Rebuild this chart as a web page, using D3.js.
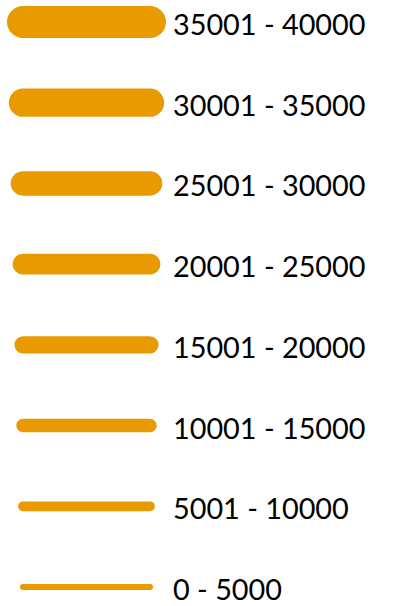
<!DOCTYPE html>
<html>
<head>
<meta charset="utf-8">
<script src="https://cdn.jsdelivr.net/npm/d3@7"></script>
<style>
  html, body { margin: 0; padding: 0; background: #fff; }
  svg { display: block; }
</style>
</head>
<body>
<div id="chartContainer"></div>
<script>
// legend classes, top to bottom
var lowerBounds = [35001, 30001, 25001, 20001, 15001, 10001, 5001, 0];
var upperBounds = [40000, 35000, 30000, 25000, 20000, 15000, 10000, 5000];
var labels = ["35001 - 40000", "30001 - 35000", "25001 - 30000", "20001 - 25000",
              "15001 - 20000", "10001 - 15000", "5001 - 10000", "0 - 5000"];

var width = 402, height = 606;

var svg = d3.select("#chartContainer")
  .append("svg")
  .attr("width", width)
  .attr("height", height);

var y = d3.scalePoint()
  .domain(labels)
  .range([22, 587]);

// stroke width grows with the class upper bound
var strokeW = d3.scaleLinear()
  .domain([5000, 40000])
  .range([6, 32]);

var rows = svg.selectAll(".row")
  .data(labels.map(function(d, i) {
    return { label: d, lo: lowerBounds[i], hi: upperBounds[i] };
  }))
  .enter().append("g")
  .attr("class", "row")
  .attr("transform", function(d) { return "translate(0," + y(d.label) + ")"; });

rows.append("line")
  .attr("x1", 23)
  .attr("x2", 150)
  .attr("y1", 0)
  .attr("y2", 0)
  .attr("stroke", "#e89a00")
  .attr("stroke-linecap", "round")
  .attr("stroke-width", function(d) { return strokeW(d.hi); });

rows.append("text")
  .attr("x", 173)
  .attr("y", 13)
  .attr("font-family", "Lato, 'Open Sans', sans-serif")
  .attr("font-size", 28.8)
  .attr("fill", "#000")
  .text(function(d) { return d.label; });
</script>
</body>
</html>
